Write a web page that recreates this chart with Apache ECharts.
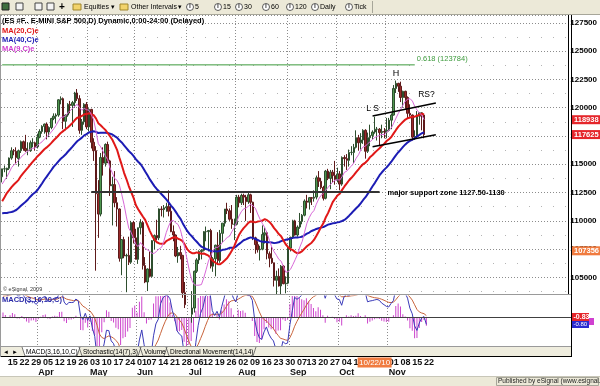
<!DOCTYPE html>
<html><head><meta charset="utf-8">
<script src="https://cdn.jsdelivr.net/npm/echarts@6/dist/echarts.min.js"></script>
<style>html,body{margin:0;padding:0;background:#fff}#c{width:600px;height:386px}</style>
</head><body><div id="c"></div>
<script>
// ---------- DATA (ES #F daily, [open, high, low, close]) ----------
const firstDay = '2010-03-11', lastDay = '2010-11-23';
const holidays = ['2010-05-31', '2010-07-05', '2010-09-06'];
// closes before the visible window (for moving-average / MACD warm-up)
const priorCloses = [1130,1133.5,1134,1138.5,1142,1144,1133,1142.5,1145.5,1133,1147,1135,1113.5,1089,1094,1089,1094.5,1081.5,1071,
  1086,1100.5,1094.5,1060,1063,1054,1067.5,1065,1075.5,1072.5,1104,1108.5,1116,1118,1117,1103.5,1114,1112,1113.5,
  1116.5,1119.5,1120,1124,1139.5,1139.5,1141.5,1146.5];
const mar = [[1139,1146,1134,1146],[1146,1149,1143,1146],[1145,1147,1137,1146.5],[1146.5,1156,1145,1155.5],[1155.5,1165,1154,1162],
  [1162,1163.5,1158,1161.75],[1161.5,1165,1150,1156],[1155,1163,1148,1162],[1162,1171,1160,1170],[1170,1171,1162,1164],
  [1164,1176,1161,1162],[1162,1169.5,1158,1162.5],[1162,1171,1161,1169],[1169,1173,1165,1169],[1169,1170,1162,1165.5]];
const apr = [[1165.5,1177,1164,1174],[1174,1181,1173,1179],[1179,1184.5,1177,1183.5],[1183.5,1186,1177,1185.5],[1185.5,1187,1172,1178.5],
  [1178.5,1183.5,1174,1182.5],[1182.5,1191,1181,1190.5],[1190.5,1195,1189,1192.5],[1192.5,1195,1186,1193.5],[1193.5,1207.5,1192,1207],
  [1207,1210,1203,1208],[1208,1209,1181,1188],[1188,1194,1180,1193.5],[1193.5,1204,1192,1203],[1203,1206,1195,1202],
  [1202,1206,1183,1204.5],[1204.5,1214,1200,1213],[1213,1216.5,1206,1208],[1208,1211,1177,1180],[1180,1190,1176,1187.5],
  [1187.5,1204,1185,1203],[1203,1205,1181,1183]];
const may = [[1183,1199.5,1179,1198.5],[1198.5,1199,1164,1169.5],[1169.5,1173,1153,1162],[1162,1166,1056,1124],[1124,1136,1085,1106],
  [1106,1160,1104,1156],[1156,1165,1140,1151],[1151,1168.5,1148,1167.5],[1167.5,1170,1151,1153],[1153,1154,1122,1131],
  [1131,1139,1096,1132],[1132,1144,1112,1116],[1116,1121,1095,1110.5],[1110.5,1111,1064,1067],[1067,1084,1052,1083.5],
  [1083.5,1086,1067,1069],[1069,1071,1037,1069.5],[1069.5,1086,1061,1063.5],[1063.5,1100,1062,1098.5],[1098.5,1100,1080,1085]];
const jun = [[1085,1093,1066,1066],[1066,1094,1062,1094],[1094,1101.5,1088,1098.5],[1098.5,1100,1057,1060.5],[1060.5,1068,1045,1046],
  [1046,1058,1038,1057.5],[1057.5,1073,1050,1051],[1051,1083,1050,1082.5],[1082.5,1088,1075,1087],[1087,1101,1083,1085],
  [1085,1111,1083,1110.5],[1110.5,1113,1104,1110],[1110,1114,1103,1111.5],[1111.5,1116,1108,1112.5],[1112.5,1127,1104,1108.5],
  [1108.5,1114,1090,1090.5],[1090.5,1096,1082,1087.5],[1087.5,1088,1068,1069],[1069,1077,1063,1072],[1072,1078,1066,1069.5],
  [1069.5,1070,1032,1036.5],[1036.5,1046,1023,1026]];
const jul = [[1026,1030,1004,1022.5],[1022.5,1028,1006,1017.5],[1017.5,1038,1010,1023],[1023,1056,1019,1055.5],[1055.5,1067,1054,1065.5],
  [1065.5,1074,1062,1073],[1073,1075,1066,1074],[1074,1091,1073,1090.5],[1090.5,1095,1082,1090.5],[1090.5,1092,1073,1091.5],
  [1091.5,1093,1058,1060],[1060,1068,1055,1066.5],[1066.5,1079,1051,1078.5],[1078.5,1090,1062,1065],[1065,1092,1063,1089],
  [1089,1098,1081,1098],[1098,1110.5,1095,1110.5],[1110.5,1116,1106,1109],[1109,1111,1100,1101.5],[1101.5,1114,1093,1097],
  [1097,1102,1083,1097]];
const aug = [[1097,1123,1096,1121],[1121,1123,1112,1116],[1116,1124,1114,1122.5],[1122.5,1124,1114,1121],[1121,1123,1100,1117],
  [1117,1125,1115,1123],[1123,1124,1107,1116.5],[1116.5,1117,1083,1085],[1085,1086,1071,1079],[1079,1082,1072,1074.5],
  [1074.5,1078,1065,1075],[1075,1096,1074,1088],[1088,1094,1080,1089.5],[1089.5,1091,1066,1071],[1071,1073,1059,1067],
  [1067,1077,1062,1063],[1063,1063,1042,1047.5],[1047.5,1056,1035,1051],[1051,1058,1042,1042.5],[1042.5,1061,1035,1060],
  [1060,1061,1044,1044.5],[1044.5,1051,1036,1045]];
const sep = [[1045,1077,1044,1076],[1076,1086,1073,1085.5],[1085.5,1101,1084,1100],[1100,1101,1087,1087.5],[1087.5,1096,1086,1094.5],
  [1094.5,1107,1093,1099.5],[1099.5,1106,1097,1105],[1105,1119,1104,1117.5],[1117.5,1123,1111,1116.5],[1116.5,1121,1110,1120.5],
  [1120.5,1121,1114,1120],[1120,1127,1117,1121],[1121,1140,1119,1138],[1138,1144,1130,1135],[1135,1138,1128,1129.5],
  [1129.5,1131,1118,1120],[1120,1145,1119,1144],[1144,1146,1136,1137.5],[1137.5,1145,1128,1143],[1143,1145,1134,1140],
  [1140,1153,1132,1136.5]];
const oct = [[1136.5,1147,1134,1141.5],[1141.5,1144,1127,1132.5],[1132.5,1157,1131,1156],[1156,1158,1148,1155],[1155,1159,1145,1153.5],
  [1153.5,1163,1148,1160.5],[1160.5,1166,1158,1160.5],[1160.5,1168,1151,1165],[1165,1180,1164,1173.5],[1173.5,1176,1162,1169],
  [1169,1177.5,1163,1171.5],[1171.5,1181,1168,1180],[1180,1181,1155,1161.5],[1161.5,1178,1160,1173.5],[1173.5,1185,1166,1175.5],
  [1175.5,1180,1172,1178.5],[1178.5,1192,1177,1181],[1181,1183,1171,1181],[1181,1182,1166,1178],[1178,1185,1173,1179],
  [1179,1182,1173,1178.5]];
const nov = [[1178.5,1191,1173,1180],[1180,1191,1179,1189],[1189,1195,1181,1193.5],[1193.5,1220,1193,1217],[1217,1224,1213,1221.5],
  [1221.5,1222,1214,1219],[1219,1223,1205,1209],[1209,1215,1200,1214.5],[1214.5,1215,1199,1209],[1209,1210,1190,1195],
  [1195,1203,1192,1193.5],[1193.5,1194,1171,1174],[1174,1180,1171.5,1174.5],[1174.5,1197,1173,1192.5],[1192.5,1196,1185,1195.5],
  [1195.5,1196,1180,1193.5],[1193.5,1194,1173,1176.25]];
// annotation levels
const fibLevel = 1237.84;
const supportLevel = 1125.5;
const upperTrend = [['2010-10-22', 1192.7], [185, 1204.2]];
const lowerTrend = [['2010-10-22', 1165.5], [185, 1176.1]];
const priceTicks = {min: 1035.4, max: 1281.9, step: 25};
const markers = [{v: 1189.38, t: '118938', c: '#e5262b'}, {v: 1176.25, t: '117625', c: '#e5262b'}, {v: 1073.56, t: '107356', c: '#f07b3f'}];

// ---------- build ----------
const ohlc = [].concat(mar, apr, may, jun, jul, aug, sep, oct, nov);
const dates = [];
(function(){
  let d = new Date(firstDay + 'T00:00:00Z'); const end = new Date(lastDay + 'T00:00:00Z');
  while (d <= end) { const s = d.toISOString().slice(0,10); const wd = d.getUTCDay();
    if (wd !== 0 && wd !== 6 && holidays.indexOf(s) < 0) dates.push(s); d = new Date(d.getTime() + 86400000); }
})();
const NBLANK = 61;
const cats = dates.concat(Array.from({length: NBLANK}, (_, i) => '_' + i));
const MON = ['Jan','Feb','Mar','Apr','May','Jun','Jul','Aug','Sep','Oct','Nov','Dec'];
const xLabels = [], monthStart = [];
dates.forEach((s, i) => {
  const d = new Date(s + 'T00:00:00Z');
  let wk = '', mo = '';
  if (i > 0) {
    const p = new Date(dates[i-1] + 'T00:00:00Z');
    if (d.getUTCDay() <= p.getUTCDay() || (d - p) > 3 * 86400000) wk = s.slice(8, 10);
    if (d.getUTCMonth() !== p.getUTCMonth()) { mo = MON[d.getUTCMonth()]; monthStart[i] = true; }
  }
  xLabels[i] = (wk || mo) ? '{d|' + (wk || ' ') + '}\n{m|' + (mo || ' ') + '}' : '';
});

const closesAll = priorCloses.concat(ohlc.map(r => r[3]));
const P = priorCloses.length;
function sma(n) { return ohlc.map((r, i) => { const k = P + i; let s = 0; for (let j = k - n + 1; j <= k; j++) s += closesAll[j]; return +(s / n).toFixed(2); }); }
function ema(arr, n) { const a = 2 / (n + 1); const out = []; let e = arr[0]; arr.forEach((v, i) => { e = i === 0 ? v : e + a * (v - e); out.push(e); }); return out; }
const e3 = ema(closesAll, 3), e16 = ema(closesAll, 16);
const macdAll = closesAll.map((c, i) => (e3[i] - e16[i]) / e16[i] * 100);
const sigAll = ema(macdAll, 10);
const macd = macdAll.slice(P).map(v => +v.toFixed(3));
const sig = sigAll.slice(P).map(v => +v.toFixed(3));
const hist = macd.map((v, i) => +(v - sig[i]).toFixed(3));

const FONT = 'Liberation Sans, Arial, sans-serif';
const dotted = {color: '#8c8c8c', type: [1, 2], width: 1};
const chart = echarts.init(document.getElementById('c'), null, {renderer: 'canvas', width: 600, height: 386});
const lineSeries = (data, color, w, extra) => Object.assign({type: 'line', data: data, xAxisIndex: 0, yAxisIndex: 0, symbol: 'none',
  lineStyle: {color: color, width: w}, silent: true, z: 5, clip: true}, extra || {});

const option = {
  animation: false,
  backgroundColor: '#ffffff',
  textStyle: {fontFamily: FONT},
  grid: [
    {left: 1, top: 15, width: 570, height: 279},
    {left: 1, top: 296, width: 570, height: 50}
  ],
  xAxis: [
    {type: 'category', gridIndex: 0, data: cats, boundaryGap: true, axisLine: {show: false}, axisTick: {show: false}, axisLabel: {show: false},
      splitLine: {show: true, interval: (i) => !!monthStart[i], lineStyle: dotted}},
    {type: 'category', gridIndex: 1, data: cats, boundaryGap: true, axisLine: {show: false}, axisTick: {show: false},
      axisLabel: {show: true, interval: 0, margin: 12, align: 'left', verticalAlign: 'top', color: '#000',
        formatter: (v, i) => xLabels[i] || '',
        rich: {d: {fontSize: 9, fontWeight: 'bold', lineHeight: 10, color: '#111', fontFamily: FONT},
               m: {fontSize: 9, fontWeight: 'bold', lineHeight: 10, color: '#111', fontFamily: FONT}}},
      splitLine: {show: true, interval: (i) => !!monthStart[i], lineStyle: dotted}}
  ],
  yAxis: [
    {type: 'value', gridIndex: 0, position: 'right', min: priceTicks.min, max: priceTicks.max, minInterval: priceTicks.step, maxInterval: priceTicks.step,
      axisLine: {show: true, lineStyle: {color: '#000', width: 1}}, axisTick: {show: false},
      axisLabel: {margin: 2, fontSize: 8, fontWeight: 'bold', color: '#000', fontFamily: FONT,
        formatter: v => String(Math.round(v * 100)), showMinLabel: false, showMaxLabel: false},
      splitLine: {show: true, lineStyle: dotted},
      minorTick: {show: false, splitNumber: 2},
      minorSplitLine: {show: true, lineStyle: {color: '#b4b4b4', type: [1, 11], width: 1}}},
    {type: 'value', gridIndex: 1, position: 'right', min: -1.93, max: 1.4,
      axisLine: {show: true, lineStyle: {color: '#000'}}, axisTick: {show: false}, axisLabel: {show: false}, splitLine: {show: false}}
  ],
  series: [
    {type: 'candlestick', xAxisIndex: 0, yAxisIndex: 0, data: ohlc.map(r => [r[0], r[3], r[2], r[1]]), barWidth: 2, clip: true, z: 3,
      itemStyle: {color: '#4f974f', color0: '#9a2a2a', borderColor: '#2e4e2e', borderColor0: '#5e1a1a', borderWidth: 1}},
    lineSeries(sma(40), '#1c1cb4', 2),
    lineSeries(sma(20), '#e01818', 2),
    lineSeries(sma(9), '#d868d8', 1),
    lineSeries([[cats[0], fibLevel], [cats[176], fibLevel]], '#3c9a3c', 1),
    lineSeries([[cats[38], supportLevel], [cats[161], supportLevel]], '#333333', 2),
    lineSeries(upperTrend.map(p => [typeof p[0] === 'number' ? cats[p[0]] : p[0], p[1]]), '#000', 1.5),
    lineSeries(lowerTrend.map(p => [typeof p[0] === 'number' ? cats[p[0]] : p[0], p[1]]), '#000', 1.5),
    {type: 'bar', xAxisIndex: 1, yAxisIndex: 1, data: hist, barWidth: 1, itemStyle: {color: '#cc44cc'}, silent: true,
      markLine: {silent: true, symbol: 'none', label: {show: false}, lineStyle: {color: '#404040', type: 'solid', width: 1}, data: [{yAxis: 0}]}},
    {type: 'line', xAxisIndex: 1, yAxisIndex: 1, data: sig, symbol: 'none', lineStyle: {color: '#c8643c', width: 1}, silent: true},
    {type: 'line', xAxisIndex: 1, yAxisIndex: 1, data: macd, symbol: 'none', lineStyle: {color: '#3a3ab8', width: 1}, silent: true}
  ]
};
chart.setOption(option);

// ---------- annotations & chrome ----------
const pt = (cat, v) => chart.convertToPixel({gridIndex: 0}, [cat, v]);
const yPx = v => chart.convertToPixel({yAxisIndex: 0}, v);
const g = [];
const txt = (x, y, s, o) => g.push(Object.assign({type: 'text', x: x, y: y, z: 100,
  style: Object.assign({text: s, fill: '#000', font: 'bold 8px ' + FONT, textVerticalAlign: 'middle'}, o || {})}));
const rect = (x, y, w, h, fill, stroke) => g.push({type: 'rect', z: 90, shape: {x: x, y: y, width: w, height: h}, style: {fill: fill, stroke: stroke || null, lineWidth: 1}});
const line = (x1, y1, x2, y2, c, w) => g.push({type: 'line', z: 95, shape: {x1: x1, y1: y1, x2: x2, y2: y2}, style: {stroke: c, lineWidth: w || 1}});

// header & legends
txt(2, 21, '(ES #F.. E-MINI S&P 500,D) Dynamic,0:00-24:00 (Delayed)', {font: 'bold 7.5px ' + FONT});
txt(2, 30.5, 'MA(20,C)e', {fill: '#e01818', font: 'bold 7.5px ' + FONT});
txt(2, 39.5, 'MA(40,C)e', {fill: '#1c1cb4', font: 'bold 7.5px ' + FONT});
txt(2, 49, 'MA(9,C)e', {fill: '#d040d0', font: 'bold 7.5px ' + FONT});
txt(3, 289, '\u00a9 eSignal, 2009', {font: '5.5px ' + FONT, fill: '#333'});
txt(2, 300, 'MACD(3,16,10,C)', {fill: '#2a2aa8', font: 'bold 7.5px ' + FONT});

// chart annotations (positioned through the axes)
let p = pt(cats[176], fibLevel); txt(p[0] + 2, p[1] - 6, '0.618 (123784)', {fill: '#3c9a3c', font: '7.5px ' + FONT});
p = pt(cats[161], supportLevel); txt(p[0] + 8, p[1] + 0.5, 'major support zone 1127.50-1130', {font: 'bold 7.5px ' + FONT});
p = pt(cats[168], 1230.4); txt(p[0], p[1], 'H', {font: '9px ' + FONT, textAlign: 'center'});
p = pt(cats[158], 1198.9); txt(p[0], p[1], 'L S', {font: '8.5px ' + FONT, textAlign: 'center'});
p = pt(cats[181], 1211.8); txt(p[0], p[1], 'RS?', {font: '8.5px ' + FONT, textAlign: 'center'});

// right-axis value markers
markers.forEach(m => { const y = yPx(m.v); rect(572, y - 4.5, 28, 9, m.c); txt(574, y, m.t, {fill: '#fff', font: 'bold 7.5px ' + FONT}); });
// MACD readouts
rect(572, 313, 17, 8, '#e5262b'); txt(573.5, 317, '-0.83', {fill: '#fff', font: 'bold 7px ' + FONT});
rect(572, 321, 17, 7, '#2a2ad0'); txt(573.5, 324.5, '-0.80', {fill: '#fff', font: '6px ' + FONT});
rect(589, 318, 5, 7, '#d040d0');

// toolbar
rect(0, 0, 600, 14, '#ece9d8'); line(0, 14.5, 600, 14.5, '#a7a699');
rect(2, 3, 7, 7, '#3f6f3f', '#222'); rect(16, 3, 7, 7, '#f4f4f4', '#444'); rect(35, 3, 7, 7, '#f4f4f4', '#444'); rect(47, 3, 7, 7, '#f4f4f4', '#444');
txt(59, 7, '+', {font: 'bold 10px ' + FONT});
rect(73, 4, 8, 6, '#f2d36b', '#a0862c'); txt(84, 7, 'Equities', {font: '7px ' + FONT}); txt(111, 7, '\u25be', {font: '7px ' + FONT});
rect(120, 4, 8, 6, '#f2d36b', '#a0862c'); txt(131, 7, 'Other Intervals', {font: '7px ' + FONT}); txt(178, 7, '\u25be', {font: '7px ' + FONT});
[[190, '5'], [218, '15'], [239, '30'], [266, '60'], [290, '120'], [315, 'Daily'], [349, 'Tick']].forEach(a => {
  g.push({type: 'circle', z: 95, shape: {cx: a[0], cy: 7, r: 3.5}, style: {fill: '#fff', stroke: '#333', lineWidth: 0.8}});
  txt(a[0], 7, 'I', {font: 'bold 5px ' + FONT, textAlign: 'center'});
  txt(a[0] + 5, 7, a[1], {font: '7px ' + FONT});
});
line(372.5, 1, 372.5, 13, '#a7a699');

// panel frames
line(0.5, 15, 0.5, 357, '#9a9a9a');
line(0, 294.5, 571, 294.5, '#9a9a9a');
line(0, 346.5, 571, 346.5, '#9a9a9a');
line(571.5, 15, 571.5, 357, '#000');

// tab bar
rect(1, 347, 570, 10, '#efedde');
line(1, 356.5, 571, 356.5, '#000');
txt(3, 352, '\u25c4', {font: '6px ' + FONT}); txt(12, 352, '\u25ba', {font: '6px ' + FONT});
[[22, 80, 'MACD(3,16,10,C)'], [79, 141, 'Stochastic(14(7),3)'], [140, 167, 'Volume'], [166, 256, 'Directional Movement(14,14)']].forEach((t, i) => {
  g.push({type: 'polyline', z: 95, shape: {points: [[t[0], 347], [t[0] + 3, 356], [t[1] - 3, 356], [t[1], 347]]}, style: {stroke: '#555', fill: i === 0 ? '#fff' : null, lineWidth: 0.8}});
  txt(t[0] + 4, 352, t[2], {font: '6.5px ' + FONT});
});

// cursor date readout
const cx = chart.convertToPixel({xAxisIndex: 1}, '2010-10-22');
rect(cx - 17, 357.5, 34, 10, '#f07b3f'); txt(cx, 362.5, '10/22/10', {fill: '#fff', font: '8px ' + FONT, textAlign: 'center'});

// status bar
rect(0, 376, 600, 10, '#ece9d8'); line(0, 376.5, 600, 376.5, '#c8c6b8');
rect(496.5, 377.5, 102, 8, '#ece9d8', '#a7a699');
txt(498, 381.5, 'Published by eSignal (www.esignal.com)', {font: '6.5px ' + FONT, fill: '#222'});

chart.setOption({graphic: g});
</script></body></html>
